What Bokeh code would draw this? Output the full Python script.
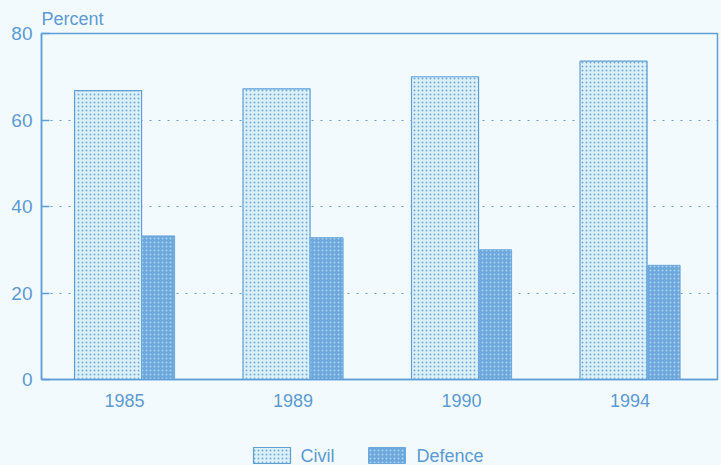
from bokeh.plotting import figure
from bokeh.layouts import column
from bokeh.models import ColumnDataSource, Range1d, FixedTicker, Title
from bokeh.core.properties import value
from bokeh.embed import file_html
from bokeh.resources import INLINE

# Share of spending, percent
years = ["1985", "1989", "1990", "1994"]
civil = [66.8, 67.2, 70.0, 73.6]
defence = [33.2, 32.8, 30.0, 26.4]
series = ["Civil", "Defence"]

BLUE = "#5e9fd6"
TEXT = "#5b9bd3"
BG = "#f3fafd"
FONT = "Liberation Sans"

CIVIL_STYLE = dict(fill_color="#dcf0f9", line_color=BLUE, line_width=1.2,
                   hatch_pattern="dot", hatch_color="#74acdc",
                   hatch_scale=4, hatch_weight=1.7)
DEF_STYLE = dict(fill_color="#6da8dc", line_color="#6da8dc", line_width=1,
                 hatch_pattern="dot", hatch_color="#a9d2f0",
                 hatch_scale=4, hatch_weight=1.4)

xs = list(range(len(years)))
src = ColumnDataSource(dict(
    x=xs,
    xc=[x - 0.098 for x in xs],
    xd=[x + 0.199 for x in xs],
    civil=civil,
    defence=defence,
))

p = figure(width=721, height=420, output_backend="svg", toolbar_location=None,
           x_range=Range1d(-0.493, 3.519), y_range=Range1d(0, 80),
           min_border_left=41, min_border_right=4, min_border_top=33,
           min_border_bottom=41, background_fill_color=BG,
           border_fill_color=BG, outline_line_color=BLUE,
           outline_line_width=1.5)

p.vbar(x="xc", top="civil", width=0.398, bottom=0, source=src, **CIVIL_STYLE)
p.vbar(x="xd", top="defence", width=0.196, bottom=0, source=src, **DEF_STYLE)

# y axis
p.yaxis.ticker = FixedTicker(ticks=[0, 20, 40, 60, 80])
p.yaxis.axis_line_color = BLUE
p.yaxis.axis_line_width = 1.5
p.yaxis.major_tick_line_color = BLUE
p.yaxis.major_tick_line_width = 1.5
p.yaxis.major_tick_in = 8
p.yaxis.major_tick_out = 0
p.yaxis.minor_tick_line_color = None
p.yaxis.major_label_text_color = TEXT
p.yaxis.major_label_text_font = FONT
p.yaxis.major_label_text_font_size = "19px"
p.yaxis.major_label_standoff = 9

# x axis
p.xaxis.ticker = FixedTicker(ticks=xs)
p.xaxis.major_label_overrides = {i: y for i, y in enumerate(years)}
p.xaxis.axis_line_color = BLUE
p.xaxis.axis_line_width = 1.5
p.xaxis.major_tick_line_color = None
p.xaxis.minor_tick_line_color = None
p.xaxis.major_label_text_color = TEXT
p.xaxis.major_label_text_font = FONT
p.xaxis.major_label_text_font_size = "18px"
p.xaxis.major_label_standoff = 8

p.xgrid.grid_line_color = None
p.ygrid.grid_line_color = BLUE
p.ygrid.grid_line_dash = "2 7"
p.ygrid.grid_line_width = 1.2

p.title = Title(text="Percent", align="left", text_color=TEXT,
                text_font=FONT, text_font_size="18px",
                text_font_style="normal", offset=0, standoff=9)

# legend strip: its frame lines up with the chart frame, ranges in pixels
lg = figure(width=721, height=45, output_backend="svg", toolbar_location=None,
            x_range=Range1d(41, 717), y_range=Range1d(0, 45),
            x_axis_location=None, y_axis_location=None,
            min_border_left=41, min_border_right=4,
            min_border_top=0, min_border_bottom=0,
            background_fill_color=BG, border_fill_color=BG,
            outline_line_color=None)
lg.grid.visible = False
swatch_x = [271.5, 386.5]
label_x = [300, 416]
lg.rect(x=[swatch_x[0]], y=[10], width=37, height=16, **CIVIL_STYLE)
lg.rect(x=[swatch_x[1]], y=[10], width=37, height=16, **DEF_STYLE)
lg.text(x=label_x, y=[10, 10], text=series, text_color=TEXT,
        text_font=value(FONT), text_font_size="18px",
        text_baseline="middle", text_align="left")

layout = column(p, lg, spacing=0, background=BG)
open("out.html", "w").write(file_html(layout, INLINE))
